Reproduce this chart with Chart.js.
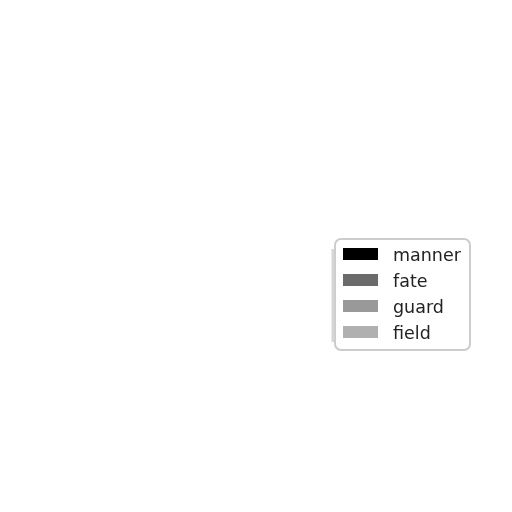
<!DOCTYPE html>
<html>
<head>
  <title></title>
  <script src="https://cdn.jsdelivr.net/npm/chart.js"></script>
  <style>
    body { margin: 0; background: #fff; }
    #wrap { width: 512px; height: 512px; }
  </style>
</head>
<body>
<div id="wrap"><canvas id="myChart"></canvas></div>
<script>
  // slices all at zero in the picture, only the legend shows
  const categories = ["manner", "fate", "guard", "field"];
  const values = [0, 0, 0, 0];
  const colors = ["#000000", "#6b6b6b", "#999999", "#b0b0b0"];

  // legend box drawn by hand, sketch style
  const boxLegend = {
    id: "boxLegend",
    afterDraw(chart) {
      const ctx = chart.ctx;
      const labels = chart.data.labels;
      const fill = chart.data.datasets[0].backgroundColor;
      const x = chart.width - 177, y = 239, w = 135, rowH = 26;
      const h = labels.length * rowH + 7;
      ctx.save();
      ctx.beginPath();
      ctx.roundRect(x, y, w, h, 6);
      ctx.fillStyle = "#ffffff";
      ctx.fill();
      ctx.lineWidth = 2;
      ctx.strokeStyle = "#cccccc";
      ctx.stroke();
      ctx.beginPath();
      ctx.moveTo(x - 2, y + 10);
      ctx.lineTo(x - 2, y + h - 8);
      ctx.lineWidth = 3;
      ctx.strokeStyle = "#d6d6d6";
      ctx.stroke();
      ctx.font = "17.5px 'DejaVu Sans'";
      ctx.textBaseline = "middle";
      labels.forEach((lab, i) => {
        const cy = y + 15 + i * rowH;
        ctx.fillStyle = fill[i];
        ctx.fillRect(x + 8, cy - 6, 35, 12);
        ctx.fillStyle = "#222222";
        ctx.fillText(lab, x + 58, cy + 2);
      });
      ctx.restore();
    }
  };

  new Chart(document.getElementById("myChart"), {
    type: "pie",
    data: {
      labels: categories,
      datasets: [{
        data: values,
        backgroundColor: colors,
        borderWidth: 0
      }]
    },
    options: {
      responsive: true,
      maintainAspectRatio: false,
      animation: false,
      plugins: {
        legend: { display: false },
        tooltip: { enabled: false }
      }
    },
    plugins: [boxLegend]
  });
</script>
</body>
</html>
